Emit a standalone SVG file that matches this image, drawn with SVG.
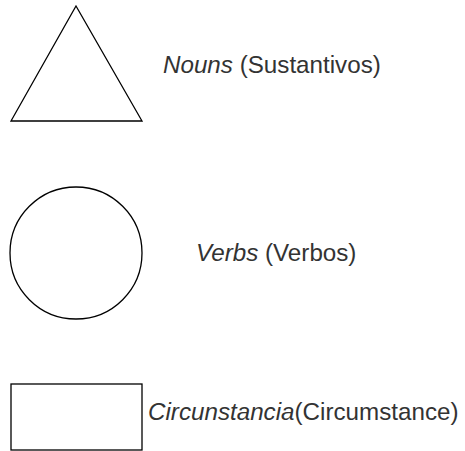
<svg xmlns="http://www.w3.org/2000/svg" width="465" height="451" viewBox="0 0 465 451">
<style>
.shape{fill:#fff;stroke:#000;stroke-width:1.3}
.lbl{font-family:"Liberation Sans",Arial,sans-serif;font-size:24.2px;fill:#333}
.it{font-style:italic}
</style>
<rect width="465" height="451" fill="#fff"/>
<g id="nouns">
<polygon class="shape" points="76,6 142,121 11,121"/>
<text class="lbl" x="163" y="73"><tspan class="it">Nouns</tspan> (Sustantivos)</text>
</g>
<g id="verbs">
<circle class="shape" cx="76" cy="253" r="66"/>
<text class="lbl" x="196" y="261"><tspan class="it">Verbs</tspan> (Verbos)</text>
</g>
<g id="circunstancia">
<rect class="shape" x="11" y="384" width="131" height="66"/>
<text class="lbl" x="148" y="420"><tspan class="it">Circunstancia</tspan>(Circumstance)</text>
</g>
<g id="connectors"/>
</svg>
